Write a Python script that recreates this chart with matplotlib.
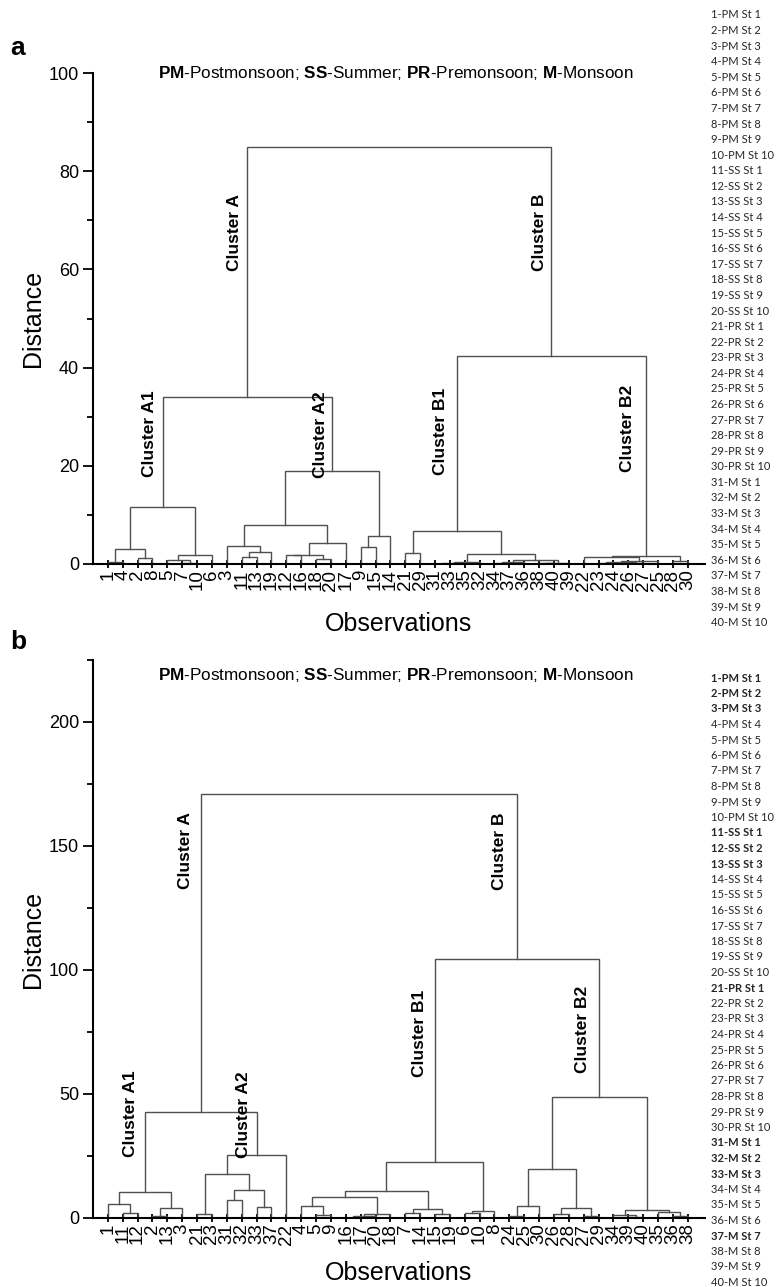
import matplotlib
matplotlib.use("Agg")
import matplotlib.pyplot as plt

plt.rcParams['font.family'] = ['Liberation Sans', 'DejaVu Sans']
plt.rcParams['mathtext.fontset'] = 'custom'
plt.rcParams['mathtext.rm'] = 'Liberation Sans'
plt.rcParams['mathtext.bf'] = 'Liberation Sans:bold'
plt.rcParams['mathtext.it'] = 'Liberation Sans:italic'

# ---- panel a: leaf order and merges (left id, right id, distance); merged ids start at 41
order_a = [1, 4, 2, 8, 5, 7, 10, 6, 3, 11, 13, 19, 12, 16, 18, 20, 17, 9, 15, 14,
           21, 29, 31, 33, 35, 32, 34, 37, 36, 38, 40, 39, 22, 23, 24, 26, 27, 25, 28, 30]
links_a = [(1, 4, 0.4), (2, 8, 1.15), (41, 42, 3.0), (7, 10, 0.3), (5, 44, 0.75),
           (45, 6, 1.9), (43, 46, 11.7), (11, 13, 1.5), (48, 19, 2.4), (3, 49, 3.7),
           (12, 16, 1.8), (18, 20, 0.95), (51, 52, 1.9), (53, 17, 4.35), (50, 54, 7.9),
           (9, 15, 3.4), (56, 14, 5.8), (55, 57, 19.0), (47, 58, 34.0), (21, 29, 2.2),
           (31, 33, 0.1), (61, 35, 0.25), (62, 32, 0.5), (34, 37, 0.15), (64, 36, 0.35),
           (38, 40, 0.15), (66, 39, 0.3), (65, 67, 0.9), (63, 68, 2.0), (60, 69, 6.8),
           (23, 24, 0.3), (26, 27, 0.2), (71, 72, 0.5), (73, 25, 0.7), (22, 74, 1.35),
           (28, 30, 0.6), (75, 76, 1.7), (70, 77, 42.3), (59, 78, 85.0)]

# ---- panel b
order_b = [1, 11, 12, 2, 13, 3, 21, 23, 31, 32, 33, 37, 22, 4, 5, 9, 16, 17, 20, 18,
           7, 14, 15, 19, 6, 10, 8, 24, 25, 30, 26, 28, 27, 29, 34, 39, 40, 35, 36, 38]
links_b = [(11, 12, 2.0), (1, 41, 5.6), (2, 13, 0.9), (43, 3, 3.9), (42, 44, 10.5),
           (21, 23, 1.5), (31, 32, 7.4), (33, 37, 4.4), (47, 48, 11.3), (46, 49, 17.6),
           (50, 22, 25.5), (45, 51, 42.7), (5, 9, 1.2), (4, 53, 4.7), (16, 17, 0.2),
           (55, 20, 0.7), (56, 18, 1.5), (54, 57, 8.5), (7, 14, 1.9), (15, 19, 1.6),
           (59, 60, 3.6), (58, 61, 11.0), (6, 10, 1.9), (63, 8, 2.7), (62, 64, 22.4),
           (24, 25, 0.7), (66, 30, 5.0), (26, 28, 1.5), (27, 29, 0.7), (68, 69, 3.9),
           (67, 70, 19.8), (39, 40, 0.4), (34, 72, 1.1), (36, 38, 0.8), (35, 74, 2.3),
           (73, 75, 3.4), (71, 76, 48.8), (65, 77, 104.5), (52, 78, 171.0)]

# cluster labels: (text, x, y, anchor)
labels_a = [("Cluster A", 9.55, 67.6, 'center'), ("Cluster B", 30.06, 67.6, 'center'),
            ("Cluster A1", 3.83, 17.7, 'bottom'), ("Cluster A2", 15.27, 17.5, 'bottom'),
            ("Cluster B1", 23.34, 18.1, 'bottom'), ("Cluster B2", 35.98, 18.7, 'bottom')]
labels_b = [("Cluster A", 6.19, 148, 'center'), ("Cluster B", 27.37, 148, 'center'),
            ("Cluster A1", 2.49, 24.6, 'bottom'), ("Cluster A2", 10.09, 24.2, 'bottom'),
            ("Cluster B1", 21.99, 56.9, 'bottom'), ("Cluster B2", 32.95, 58.5, 'bottom')]

seasons = ['PM'] * 10 + ['SS'] * 10 + ['PR'] * 10 + ['M'] * 10
samples = ['%d-%s St %d' % (i + 1, seasons[i], i % 10 + 1) for i in range(40)]
bold_b = [1, 2, 3, 11, 12, 13, 21, 31, 32, 33, 37]

title = (r'$\mathbf{PM}$-Postmonsoon; $\mathbf{SS}$-Summer; '
         r'$\mathbf{PR}$-Premonsoon; $\mathbf{M}$-Monsoon')

W, H = 781, 1287
fig = plt.figure(figsize=(W / 100, H / 100), dpi=100)


def dendro(ax, order, links):
    pos = {leaf: i + 1 for i, leaf in enumerate(order)}
    hgt = {leaf: 0.0 for leaf in order}
    nid = len(order) + 1
    for a, b, h in links:
        ax.plot([pos[a], pos[a], pos[b], pos[b]], [hgt[a], h, h, hgt[b]],
                color='#505050', lw=1.0, solid_joinstyle='miter')
        pos[nid] = (pos[a] + pos[b]) / 2
        hgt[nid] = h
        nid += 1


def panel(rect, order, links, labels, ymax, ytop, major, xlab_y, title_y):
    ax = fig.add_axes(rect)
    dendro(ax, order, links)
    ax.set_xlim(0, 41.16)
    ax.set_ylim(0, ytop)
    for s in ['top', 'right']:
        ax.spines[s].set_visible(False)
    ax.spines['left'].set_linewidth(1.5)
    ax.spines['bottom'].set_linewidth(1.5)
    ax.set_xticks(range(1, 41))
    ax.set_xticklabels([str(o) for o in order], rotation=90, fontsize=13.5)
    ax.tick_params(axis='x', direction='inout', length=6, width=1.3, pad=1)
    ax.set_yticks(range(0, ymax + 1, major))
    ax.set_yticks(range(major // 2, ytop + 1, major), minor=True)
    ax.tick_params(axis='y', which='major', direction='out', length=7, width=1.3,
                   labelsize=13, pad=3)
    ax.tick_params(axis='y', which='minor', direction='out', length=4.5, width=1.3)
    ax.set_ylabel('Distance', fontsize=18)
    ax.yaxis.set_label_coords(-0.078, 0.5)
    ax.set_xlabel('Observations', fontsize=18)
    ax.xaxis.set_label_coords(0.5, xlab_y)
    for txt, x, y, va in labels:
        ax.text(x, y, txt, rotation=90, ha='center', va=va, fontsize=12.5,
                fontweight='bold')
    ax.text(0.495, title_y, title, transform=ax.transAxes, ha='center', va='center',
            fontsize=12.3)
    return ax


# pixel layout: y axis at x=93, x axis ends at x=705
left, width = 93 / W, 612 / W
panel([left, 1 - 564 / H, width, 491 / H], order_a, links_a, labels_a,
      100, 100, 20, -0.098, 1.0)
panel([left, 1 - 1218 / H, width, 558 / H], order_b, links_b, labels_b,
      200, 225, 50, -0.077, 1 - 15 / 558)

fig.text(18 / W, 1 - 48 / H, 'a', fontsize=19, fontweight='bold', ha='center', va='center')
fig.text(18 / W, 1 - 642 / H, 'b', fontsize=19, fontweight='bold', ha='center', va='center')

for i, s in enumerate(samples):
    fig.text(711 / W, 1 - (15 + i * 15.58) / H, s, fontsize=8, family='Lato',
             color='#262626', va='center')
    fig.text(711 / W, 1 - (678 + i * 15.5) / H, s, fontsize=8, family='Lato',
             color='#262626', va='center',
             fontweight='bold' if (i + 1) in bold_b else 'normal')

fig.savefig('out.png', dpi=100)
